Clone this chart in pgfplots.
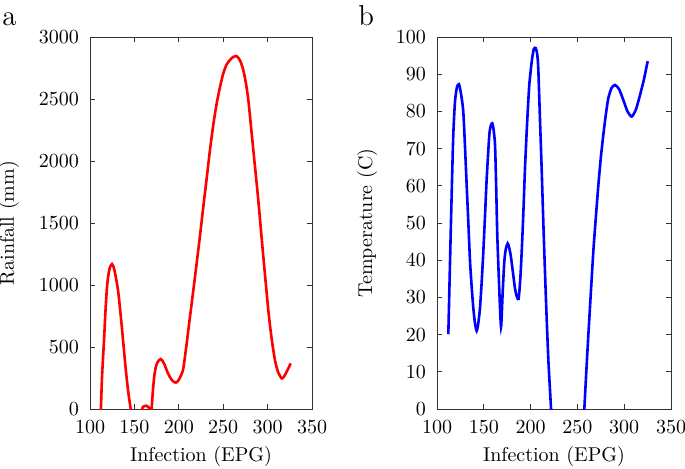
\documentclass[border=0pt]{standalone}
\usepackage{pgfplots}
\pgfplotsset{compat=1.18}
\pgfplotsset{
  panel/.style={
    scale only axis,
    anchor=south west,
    height=186pt,
    xmin=100, xmax=350,
    ymin=0,
    xtick={100,150,200,250,300,350},
    tick align=inside,
    major tick length=2.5pt,
    minor tick num=0,
    axis line style={black!80, line width=0.5pt},
    every tick/.style={black!80, line width=0.5pt},
    /pgf/number format/1000 sep={},
    scaled ticks=false,
    xticklabel style={yshift=-2.5pt},
    yticklabel style={xshift=-2pt},
    xlabel style={at={(axis description cs:0.5,0)}, anchor=center, yshift=-23.5pt},
    clip=true,
  }
}
\begin{document}
\begin{tikzpicture}[x=1pt,y=1pt]
\useasboundingbox (0,0) rectangle (342.5,234);
\node[anchor=base west, font=\Large, inner sep=0pt] at (1,221.5) {a};
\node[anchor=base west, font=\Large, inner sep=0pt] at (179,221.5) {b};
\begin{axis}[panel,
  at={(45pt,29.5pt)},
  width=111pt,
  ymax=3000,
  ytick={0,500,1000,1500,2000,2500,3000},
  xlabel={Infection (EPG)},
  ylabel={Rainfall (mm)},
  ylabel style={at={(axis description cs:-0.365,0.5)}, anchor=center, rotate=0},
]
\addplot[red, line width=1.3pt, smooth, tension=0.5] coordinates {
(111.6,-150) (113.5,250) (115.8,556) (117.5,800) (119.5,1013) (122,1130)
(124.8,1169) (127.5,1120) (131.5,960) (134.5,760) (137.2,556) (140,340)
(142.8,153) (145.8,0) (148,-120) (151,-200) (155,-150) (158.6,0)
(161,22) (163,27) (165,20) (167.9,0) (169.2,-15) (170.9,153) (172.8,288)
(175.5,370) (179.6,403) (183.5,365) (187.8,288) (192,235) (196.5,212)
(200,235) (203,280) (205.1,328) (208,480) (212.6,744) (216.4,960)
(220.1,1175) (223.9,1400) (227.6,1632) (231.4,1860) (235.1,2089)
(239,2300) (242.7,2465) (246.5,2600) (250.1,2707) (254,2780) (257.7,2815)
(261,2838) (265.2,2845) (269,2810) (272.6,2734) (275.5,2630) (278.3,2492)
(281,2300) (283.9,2089) (286.7,1890) (289.5,1685) (292.3,1460) (295.2,1228)
(298,1010) (300.8,798) (303.6,620) (306.4,476) (309,370) (312,295)
(315.8,247) (318.5,262) (321.5,301) (326,368)
};
\end{axis}
\begin{axis}[panel,
  at={(218.5pt,29.5pt)},
  width=117pt,
  ymax=100,
  ytick={0,10,20,30,40,50,60,70,80,90,100},
  xlabel={Infection (EPG)},
  ylabel={Temperature (C)},
  ylabel style={at={(axis description cs:-0.299,0.5)}, anchor=center},
]
\addplot[blue, line width=1.3pt, smooth, tension=0.4] coordinates {
(112.1,20.1) (113.3,33) (114.6,46.8) (116,61) (117.4,73.7) (119.2,82.6)
(121.3,86.5) (123.5,87.3) (125.8,84.5) (128.1,79.9) (130,70) (131.7,60.2)
(133.5,50) (135.3,39.6) (137,33) (138.8,27.1) (140.6,23) (142.4,21.0)
(144.1,23) (145.9,27.1) (147.7,34) (149.5,42.3) (151.3,52) (153.1,62.0)
(155.9,73.7) (157.5,76.2) (159.1,76.8) (160.5,75) (162.0,71.0) (163.2,60)
(164.4,46.8) (166.4,33) (168.4,22.1) (170.1,31) (171.9,39.6) (173.5,43)
(175.5,44.5) (177,43.5) (178.7,41.4) (181,37) (183.3,32.4) (185.3,30.2)
(187.2,29.6) (189,35) (190.5,42.3) (192.3,53) (194.0,64.7) (196.3,77)
(198.6,87.1) (201.5,94) (203.5,96.8) (205.5,97) (207,95.5) (208.2,91.6)
(210,78) (211.8,64.7) (214,47) (216.5,28.8) (219,13) (221.8,0)
(225,-20) (230,-40) (240,-55) (250,-35) (257.4,0) (259.5,10) (261.7,19.9)
(264.3,31) (267.0,42.3) (269.7,51.5) (272.4,60.2) (275,67.5) (277.7,73.7)
(280.3,79) (283.0,83.5) (286.5,86.3) (290.2,87.1) (294.5,86) (299.0,83.1)
(303.5,80) (308.0,78.6) (312.5,80.5) (316.9,84.4) (321,88.5) (325.1,93.5)
};
\end{axis}
\end{tikzpicture}
\end{document}
